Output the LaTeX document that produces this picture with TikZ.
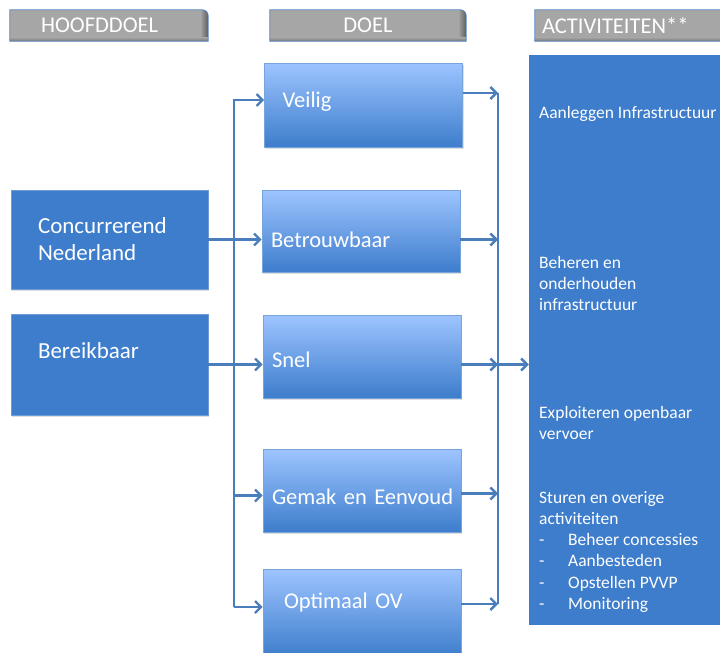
\documentclass[tikz,border=0pt]{standalone}
\usepackage{fontspec}
\setmainfont{Carlito}
\usepackage{tikz}
\usetikzlibrary{arrows.meta}
\usetikzlibrary{backgrounds}
\usetikzlibrary{shadows}
\usepackage{xcolor}
\definecolor{ColBox}{RGB}{61,125,204}
\definecolor{ColTop}{RGB}{157,196,255}
\definecolor{ColLine}{RGB}{74,126,187}
\definecolor{ColHead}{RGB}{166,166,166}
\definecolor{ColHeadDark}{RGB}{92,92,92}
\definecolor{ColEdge}{RGB}{79,129,189}
\tikzstyle{HeadBox}=[minimum height=31pt,inner xsep=7pt,inner ysep=0pt,text=white,
font=\fontsize{22.5}{26}\selectfont]
\tikzstyle{MainBox}=[rectangle,fill=ColBox,draw=ColBox!75!white,line width=.6pt,text=white,
align=left,inner xsep=27pt,text width=143pt,font=\fontsize{23}{27}\selectfont,
drop shadow={shadow xshift=1pt,shadow yshift=-2pt,opacity=.25}]
\tikzstyle{GoalBox}=[rectangle,top color=ColTop,bottom color=ColBox,draw=ColBox!70!white,
line width=.6pt,text=white,align=left,inner xsep=9pt,text width=180pt,
font=\fontsize{22.5}{26}\selectfont,drop shadow={shadow xshift=1pt,shadow yshift=-2pt,opacity=.25}]
\tikzstyle{PanelBox}=[rectangle,fill=ColBox,minimum width=191pt,minimum height=570pt]
\tikzstyle{PanelText}=[anchor=base west,inner sep=0pt,text=white,align=left,
font=\fontsize{17.5}{21.3}\selectfont]
\tikzstyle{Wire}=[ColLine,line width=2.4pt,-{Straight Barb[length=6pt,width=12pt]}]
\newcommand{\HeadShape}[1]{%
  \begin{scope}
  \clip(#1.south west)--(#1.north west)--([xshift=-6pt]#1.north east)
    arc[start angle=90,end angle=0,radius=6pt]--(#1.south east)--cycle;
  \fill[ColHead](#1.south west)rectangle(#1.north east);
  \shade[left color=ColHead,right color=ColHeadDark]([xshift=-8pt]#1.north east)rectangle(#1.south east);
  \shade[top color=ColHead,bottom color=ColHeadDark!60!ColHead]([yshift=4pt]#1.south west)rectangle(#1.south east);
  \end{scope}
  \draw[ColEdge,line width=.8pt](#1.south west)--(#1.north west)--([xshift=-6pt]#1.north east)
    arc[start angle=90,end angle=0,radius=6pt]--(#1.south east)--cycle;}

\begin{document}
\begin{tikzpicture}[x=1pt,y=-1pt]
        \useasboundingbox(0,0)rectangle(720,653);
        % headers
        \node[HeadBox,minimum width=198pt,align=left,text width=184pt](hmain)at(109,25.5){\hspace*{24pt}HOOFDDOEL};
        \node[HeadBox,minimum width=196pt](hgoal)at(368,25.5){DOEL};
        \node[HeadBox,align=left,text width=181pt](hact)at(632.5,25.5){ACTIVITEITEN**};
        \begin{pgfonlayer}{background}
        \HeadShape{hmain}
        \HeadShape{hgoal}
        \HeadShape{hact}
        \end{pgfonlayer}
        % hoofddoelen
        \node[MainBox,minimum height=99pt](conc)at(109.5,239.5){Concurrerend\\Nederland};
        \node[MainBox,minimum height=101pt](ber)at(109.5,364.5){Bereikbaar\\\mbox{}};
        % doelen
        \node[GoalBox,minimum height=84pt,text depth=11pt](veilig)at(363.5,105){\hspace*{9pt}Veilig};
        \node[GoalBox,minimum height=82pt,text height=33pt](betr)at(361,231){Betrouwbaar};
        \node[GoalBox,minimum height=83pt,text height=23pt](snel)at(362,356.5){Snel};
        \node[GoalBox,minimum height=83pt,text height=29pt](gemak)at(362,490.5){\mbox{Gemak en Eenvoud}};
        \node[GoalBox,minimum height=88pt,text depth=25pt](optim)at(362,613){\hspace*{12pt}Optimaal OV};
        % activiteiten
        \node[PanelBox](act)at(624.5,340){};
        \node[PanelText](a1)at(539,118){Aanleggen Infrastructuur};
        \node[PanelText](a2)at(539,310.6){Beheren en\\onderhouden\\infrastructuur};
        \node[PanelText](a3)at(539,439.3){Exploiteren openbaar\\vervoer};
        \node[PanelText](a4)at(539,609.5){Sturen en overige\\activiteiten\\
        \makebox[29pt][l]{-}Beheer concessies\\\makebox[29pt][l]{-}Aanbesteden\\
        \makebox[29pt][l]{-}Opstellen PVVP\\\makebox[29pt][l]{-}Monitoring};
        % verbindingen
        \coordinate(LTop)at(234,100);
        \coordinate(LBot)at(234,607);
        \coordinate(RTop)at(498,93);
        \coordinate(RBot)at(498,604);
        \draw[Wire](LBot)--(LTop)--(LTop-|veilig.west);
        \draw[Wire](conc.east)--(conc.east-|betr.west);
        \draw[Wire](ber.east)--(ber.east-|snel.west);
        \draw[Wire]([yshift=-5pt]gemak.west-|LTop)--([yshift=-5pt]gemak.west);
        \draw[Wire](LBot)--(LBot-|optim.west);
        \draw[Wire](veilig.east|-RTop)--(RTop);
        \draw[Wire](betr.east|-conc.east)--(RTop|-conc.east);
        \draw[Wire](snel.east|-ber.east)--(RTop|-ber.east);
        \draw[Wire]([yshift=-3pt]gemak.east)--([yshift=-3pt]gemak.east-|RTop);
        \draw[Wire](optim.east|-RBot)--(RBot);
        \draw[ColLine,line width=2.4pt](RTop)--(RBot);
        \draw[Wire](RTop|-ber.east)--(ber.east-|act.west);
    \end{tikzpicture}
\end{document}
